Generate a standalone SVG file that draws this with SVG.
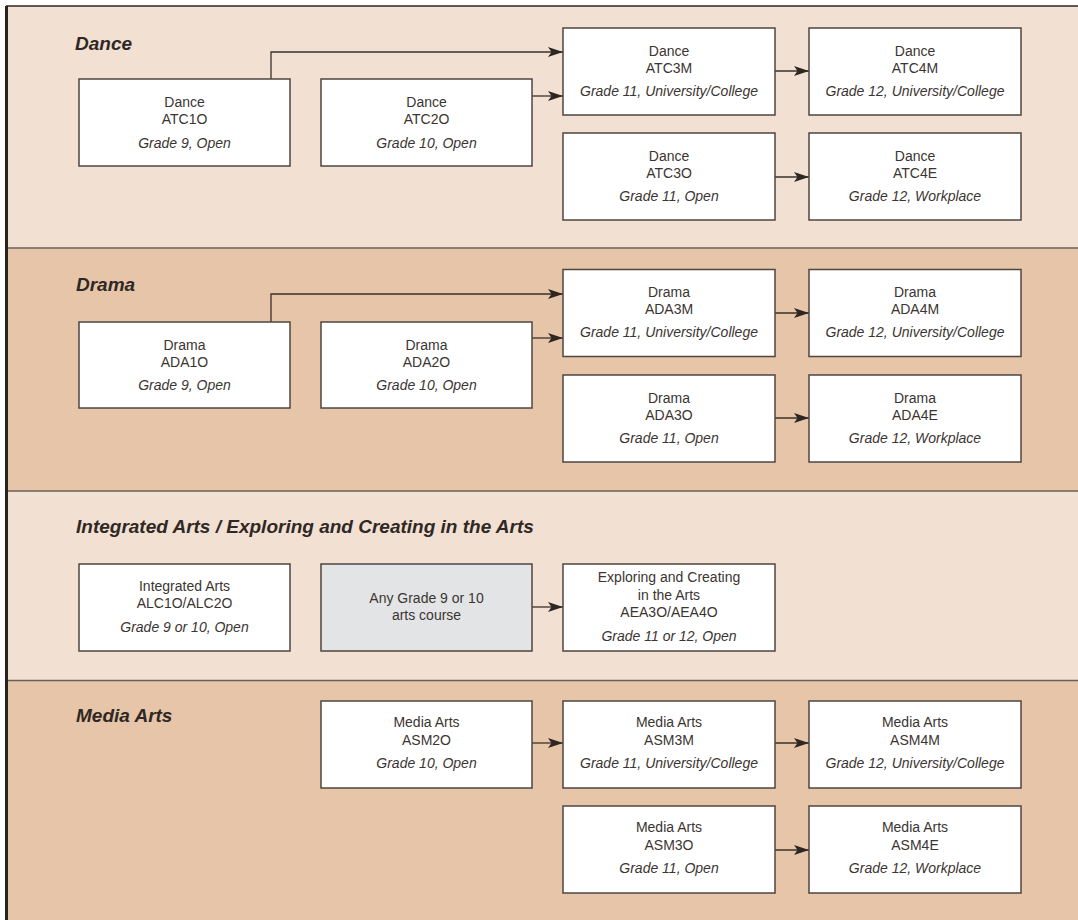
<svg xmlns="http://www.w3.org/2000/svg" width="1078" height="920" viewBox="0 0 1078 920">
<defs>
<style>
.light{fill:#f2e1d2}
.dark{fill:#e7c5a8}
.sep{stroke:#6a605a;stroke-width:1.5;fill:none}
.box{fill:#ffffff;stroke:#4f4640;stroke-width:1.5}
.gray{fill:#e3e4e6;stroke:#4f4640;stroke-width:1.5}
.t{font-family:"Liberation Sans",Arial,sans-serif;font-size:14px;fill:#3b3532;text-anchor:middle}
.i{font-style:italic}
.title{font-family:"Liberation Sans",Arial,sans-serif;font-size:19px;font-weight:bold;font-style:italic;fill:#2f2825}
.c{stroke:#3a302a;stroke-width:1.3;fill:none;marker-end:url(#arr)}
</style>
<marker id="arr" markerUnits="userSpaceOnUse" markerWidth="16" markerHeight="11" refX="15" refY="5.5" orient="auto">
<path d="M0,0.5 L15,5.5 L0,10.5 L3.5,5.5 Z" fill="#2e2622"/>
</marker>
</defs>
<rect x="0" y="0" width="1078" height="920" fill="#ffffff"/>
<g id="backgrounds">
<rect class="light" x="6" y="6" width="1072" height="242"/>
<rect class="dark" x="6" y="248" width="1072" height="243"/>
<rect class="light" x="6" y="491" width="1072" height="189"/>
<rect class="dark" x="6" y="680" width="1072" height="240"/>
<line class="sep" x1="6" y1="6" x2="1078" y2="6" style="stroke:#2e2622"/>
<line class="sep" x1="6" y1="248" x2="1078" y2="248"/>
<line class="sep" x1="6" y1="491" x2="1078" y2="491"/>
<line class="sep" x1="6" y1="680.5" x2="1078" y2="680.5"/>
<line x1="6.5" y1="6" x2="6.5" y2="920" stroke="#2a2420" stroke-width="3"/>
</g>
<g id="titles">
<text class="title" x="75" y="50">Dance</text>
<text class="title" x="76" y="291">Drama</text>
<text class="title" x="76" y="533">Integrated Arts / Exploring and Creating in the Arts</text>
<text class="title" x="76" y="722">Media Arts</text>
</g>
<g id="connectors">
<path class="c" d="M271,79 V52 H563"/>
<path class="c" d="M532,96 H563"/>
<path class="c" d="M775,71 H809"/>
<path class="c" d="M775,177 H809"/>
<path class="c" d="M271,322 V294 H563"/>
<path class="c" d="M532,338 H563"/>
<path class="c" d="M775,313 H809"/>
<path class="c" d="M775,418 H809"/>
<path class="c" d="M532,607 H563"/>
<path class="c" d="M532,743 H563"/>
<path class="c" d="M775,743 H809"/>
<path class="c" d="M775,850 H809"/>
</g>
<g id="ATC1O"><rect class="box" x="79" y="79" width="211" height="87"/><text class="t" x="184.5" y="107">Dance</text><text class="t" x="184.5" y="124">ATC1O</text><text class="t i" x="184.5" y="148">Grade 9, Open</text></g>
<g id="ATC2O"><rect class="box" x="321" y="79" width="211" height="87"/><text class="t" x="426.5" y="107">Dance</text><text class="t" x="426.5" y="124">ATC2O</text><text class="t i" x="426.5" y="148">Grade 10, Open</text></g>
<g id="ATC3M"><rect class="box" x="563" y="28" width="212" height="87"/><text class="t" x="669" y="56">Dance</text><text class="t" x="669" y="73">ATC3M</text><text class="t i" x="669" y="96">Grade 11, University/College</text></g>
<g id="ATC4M"><rect class="box" x="809" y="28" width="212" height="87"/><text class="t" x="915" y="56">Dance</text><text class="t" x="915" y="73">ATC4M</text><text class="t i" x="915" y="96">Grade 12, University/College</text></g>
<g id="ATC3O"><rect class="box" x="563" y="133" width="212" height="87"/><text class="t" x="669" y="161">Dance</text><text class="t" x="669" y="178">ATC3O</text><text class="t i" x="669" y="201">Grade 11, Open</text></g>
<g id="ATC4E"><rect class="box" x="809" y="133" width="212" height="87"/><text class="t" x="915" y="161">Dance</text><text class="t" x="915" y="178">ATC4E</text><text class="t i" x="915" y="201">Grade 12, Workplace</text></g>

<g id="ADA1O"><rect class="box" x="79" y="322" width="211" height="86"/><text class="t" x="184.5" y="350">Drama</text><text class="t" x="184.5" y="367">ADA1O</text><text class="t i" x="184.5" y="390">Grade 9, Open</text></g>
<g id="ADA2O"><rect class="box" x="321" y="322" width="211" height="86"/><text class="t" x="426.5" y="350">Drama</text><text class="t" x="426.5" y="367">ADA2O</text><text class="t i" x="426.5" y="390">Grade 10, Open</text></g>
<g id="ADA3M"><rect class="box" x="563" y="269.5" width="212" height="87"/><text class="t" x="669" y="297">Drama</text><text class="t" x="669" y="314">ADA3M</text><text class="t i" x="669" y="337">Grade 11, University/College</text></g>
<g id="ADA4M"><rect class="box" x="809" y="269.5" width="212" height="87"/><text class="t" x="915" y="297">Drama</text><text class="t" x="915" y="314">ADA4M</text><text class="t i" x="915" y="337">Grade 12, University/College</text></g>
<g id="ADA3O"><rect class="box" x="563" y="375" width="212" height="87"/><text class="t" x="669" y="403">Drama</text><text class="t" x="669" y="420">ADA3O</text><text class="t i" x="669" y="443">Grade 11, Open</text></g>
<g id="ADA4E"><rect class="box" x="809" y="375" width="212" height="87"/><text class="t" x="915" y="403">Drama</text><text class="t" x="915" y="420">ADA4E</text><text class="t i" x="915" y="443">Grade 12, Workplace</text></g>

<g id="ALC"><rect class="box" x="79" y="564" width="211" height="87"/><text class="t" x="184.5" y="591">Integrated Arts</text><text class="t" x="184.5" y="608">ALC1O/ALC2O</text><text class="t i" x="184.5" y="632">Grade 9 or 10, Open</text></g>
<g id="ANY"><rect class="gray" x="321" y="564" width="211" height="87"/><text class="t" x="426.5" y="603">Any Grade 9 or 10</text><text class="t" x="426.5" y="620">arts course</text></g>
<g id="AEA"><rect class="box" x="563" y="564" width="212" height="87"/><text class="t" x="669" y="582">Exploring and Creating</text><text class="t" x="669" y="600">in the Arts</text><text class="t" x="669" y="617">AEA3O/AEA4O</text><text class="t i" x="669" y="641">Grade 11 or 12, Open</text></g>

<g id="ASM2O"><rect class="box" x="321" y="701" width="211" height="87"/><text class="t" x="426.5" y="727">Media Arts</text><text class="t" x="426.5" y="745">ASM2O</text><text class="t i" x="426.5" y="768">Grade 10, Open</text></g>
<g id="ASM3M"><rect class="box" x="563" y="701" width="212" height="87"/><text class="t" x="669" y="727">Media Arts</text><text class="t" x="669" y="745">ASM3M</text><text class="t i" x="669" y="768">Grade 11, University/College</text></g>
<g id="ASM4M"><rect class="box" x="809" y="701" width="212" height="87"/><text class="t" x="915" y="727">Media Arts</text><text class="t" x="915" y="745">ASM4M</text><text class="t i" x="915" y="768">Grade 12, University/College</text></g>
<g id="ASM3O"><rect class="box" x="563" y="806" width="212" height="87"/><text class="t" x="669" y="832">Media Arts</text><text class="t" x="669" y="850">ASM3O</text><text class="t i" x="669" y="873">Grade 11, Open</text></g>
<g id="ASM4E"><rect class="box" x="809" y="806" width="212" height="87"/><text class="t" x="915" y="832">Media Arts</text><text class="t" x="915" y="850">ASM4E</text><text class="t i" x="915" y="873">Grade 12, Workplace</text></g>
</svg>
